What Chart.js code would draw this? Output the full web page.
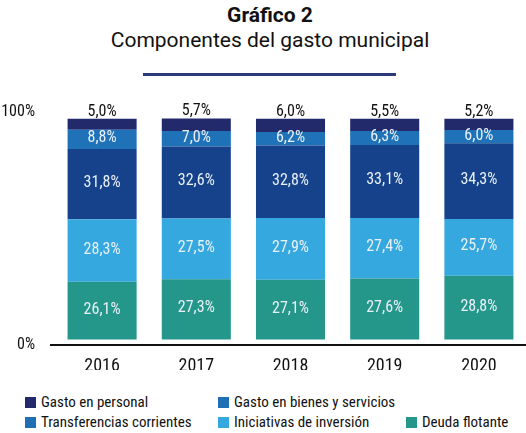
<!DOCTYPE html>
<html lang="es">
<head>
<meta charset="utf-8">
<title>Gráfico 2</title>
<script src="https://cdn.jsdelivr.net/npm/chart.js@4.4.1/dist/chart.umd.min.js"></script>
<style>
  html, body { margin: 0; padding: 0; background: #fff; }
  body { width: 526px; height: 433px; position: relative; overflow: hidden; font-family: Roboto, sans-serif; color: #111; }
  #titulo { position: absolute; left: 0; width: 540px; top: 3px; text-align: center; font-weight: bold; font-size: 21px; line-height: normal; }
  #subtitulo { position: absolute; left: 0; width: 540px; top: 28px; text-align: center; font-size: 21px; line-height: normal; }
  #linea { position: absolute; left: 143px; width: 253px; top: 73px; height: 3px; background: #2b3b78; }
  #wrap { position: absolute; left: 0; top: 0; width: 526px; height: 380px; }
  #leyenda { position: absolute; left: 25px; top: 392px; width: 501px; display: grid; grid-template-columns: 193px 188px 120px; grid-auto-rows: 20px;
             font-family: 'Roboto Condensed', 'Liberation Sans Narrow', 'DejaVu Sans Condensed', 'Arial Narrow', sans-serif; font-size: 15px; }
  .item { display: flex; align-items: center; white-space: nowrap; }
  .item:nth-child(1) { grid-row: 1; grid-column: 1; }
  .item:nth-child(2) { grid-row: 1; grid-column: 2; }
  .item:nth-child(3) { grid-row: 2; grid-column: 1; }
  .item:nth-child(4) { grid-row: 2; grid-column: 2; }
  .item:nth-child(5) { grid-row: 2; grid-column: 3; }
  .caja { width: 11px; height: 11px; margin-right: 5px; flex: none; }
</style>
</head>
<body>
<div id="titulo">Gráfico 2</div>
<div id="subtitulo">Componentes del gasto municipal</div>
<div id="linea"></div>
<div id="wrap"><canvas id="grafico"></canvas></div>
<div id="leyenda"></div>
<script>
// datos (porcentaje del gasto total)
const years = ['2016', '2017', '2018', '2019', '2020'];
const gastoPersonal = [5.0, 5.7, 6.0, 5.5, 5.2];
const bienesServicios = [8.8, 7.0, 6.2, 6.3, 6.0];
const transferencias = [31.8, 32.6, 32.8, 33.1, 34.3];
const inversion = [28.3, 27.5, 27.9, 27.4, 25.7];
const deudaFlotante = [26.1, 27.3, 27.1, 27.6, 28.8];
const yTickLabels = ['0%', '100%'];

const FUENTE = "'Roboto Condensed', 'Liberation Sans Narrow', 'DejaVu Sans Condensed', 'Arial Narrow', sans-serif";

// orden de la leyenda (fila por fila); la barra se apila al revés
const series = [
    { label: 'Gasto en personal', data: gastoPersonal, color: '#232a6c', legendColor: '#232a6c' },
    { label: 'Gasto en bienes y servicios', data: bienesServicios, color: '#1f72b8', legendColor: '#1f6fb5' },
    { label: 'Transferencias corrientes', data: transferencias, color: '#15428b', legendColor: '#1f6fb5' },
    { label: 'Iniciativas de inversión', data: inversion, color: '#36a8e0', legendColor: '#36a8e0' },
    { label: 'Deuda flotante', data: deudaFlotante, color: '#25968a', legendColor: '#25968a' }
];

function fmt(v) {
    return v.toFixed(1).replace('.', ',') + '%';
}

// etiquetas de valor dentro de cada segmento (la de arriba va sobre la barra)
const etiquetas = {
    id: 'etiquetas',
    afterDatasetsDraw(chart) {
        const ctx = chart.ctx;
        ctx.save();
        ctx.font = '16px ' + FUENTE;
        ctx.textAlign = 'center';
        ctx.textBaseline = 'middle';
        chart.data.datasets.forEach((ds, i) => {
            const meta = chart.getDatasetMeta(i);
            const top = i === chart.data.datasets.length - 1;
            meta.data.forEach((bar, j) => {
                const txt = fmt(ds.data[j]);
                if (top) {
                    ctx.fillStyle = '#111';
                    ctx.fillText(txt, bar.x, bar.y - 7);
                } else {
                    ctx.fillStyle = '#e8f0f8';
                    ctx.fillText(txt, bar.x, (bar.y + bar.base) / 2 - 1);
                }
            });
        });
        ctx.restore();
    }
};

// línea del eje x, un poco más larga que el área del gráfico
const ejeX = {
    id: 'ejeX',
    afterDraw(chart) {
        const ctx = chart.ctx;
        const y = chart.chartArea.bottom;
        ctx.save();
        ctx.strokeStyle = '#111';
        ctx.lineWidth = 2;
        ctx.beginPath();
        ctx.moveTo(50, y);
        ctx.lineTo(chart.width, y);
        ctx.stroke();
        ctx.restore();
    }
};

Chart.defaults.font.family = FUENTE;
Chart.defaults.color = '#111';

const ctx = document.getElementById('grafico').getContext('2d');
const chart = new Chart(ctx, {
    type: 'bar',
    data: {
        labels: years,
        datasets: series.slice().reverse().map(s => ({
            label: s.label,
            data: s.data,
            backgroundColor: s.color,
            borderWidth: 0,
            barPercentage: 0.733,
            categoryPercentage: 1
        }))
    },
    options: {
        responsive: true,
        maintainAspectRatio: false,
        animation: false,
        layout: { padding: { top: 112, bottom: 10, left: 0, right: 0 } },
        plugins: {
            legend: { display: false },
            tooltip: { enabled: false }
        },
        scales: {
            x: {
                stacked: true,
                grid: { display: false },
                border: { display: false },
                afterFit: (axis) => { axis.height = 25; },
                ticks: { font: { size: 18 }, color: '#111', padding: 3, maxRotation: 0 }
            },
            y: {
                stacked: true,
                min: -2.5,
                max: 103,
                grid: { display: false },
                border: { display: false },
                afterBuildTicks: (axis) => {
                    axis.ticks = [{ value: axis.min }, { value: axis.max }];
                },
                afterFit: (axis) => { axis.width = 55; },
                ticks: {
                    font: { size: 16 },
                    color: '#111',
                    padding: 12,
                    callback: (v) => v > 50 ? yTickLabels[1] : yTickLabels[0]
                }
            }
        }
    },
    plugins: [etiquetas, ejeX]
});

// leyenda: dos elementos en la primera fila, tres en la segunda
const leyenda = document.getElementById('leyenda');
series.forEach(s => {
    const item = document.createElement('div');
    item.className = 'item';
    item.innerHTML = `<span class="caja" style="background:${s.legendColor}"></span><span>${s.label}</span>`;
    leyenda.appendChild(item);
});
</script>
</body>
</html>
